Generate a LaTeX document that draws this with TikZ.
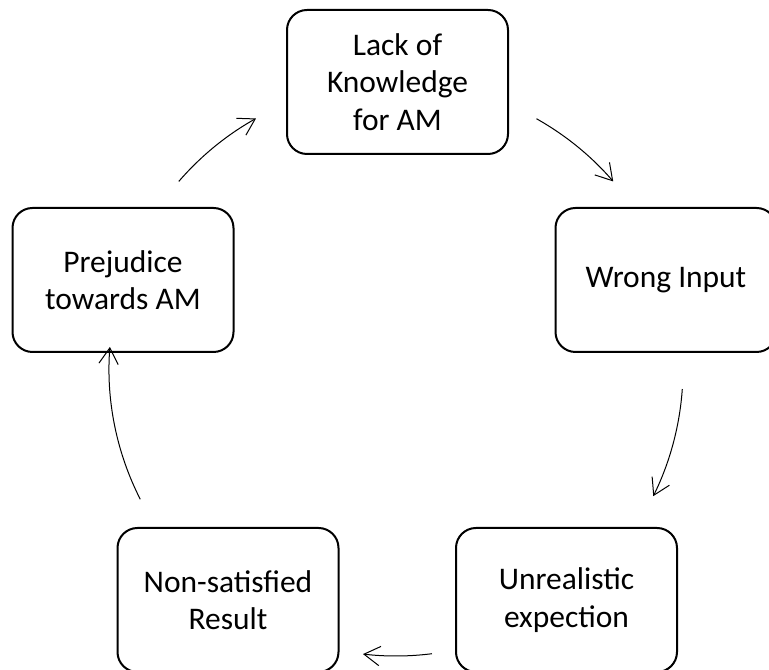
\documentclass[tikz,border=0pt]{standalone}
\usepackage{fontspec}
\setmainfont{Carlito}
\usetikzlibrary{arrows.meta}

\begin{document}
\begin{tikzpicture}[x=0.75pt, y=0.75pt,
	cause/.style={draw, line width=1.5pt, rounded corners=15pt, minimum width=165.75pt,
		minimum height=108pt, align=center, inner sep=0pt,
		font=\fontsize{23.6}{28}\selectfont},
	cyc/.style={-{Straight Barb[length=12pt,width=14.5pt]}, line width=0.75pt}]

	\useasboundingbox (0,0) rectangle (769,670);
	\clip (0,0) rectangle (769,670);
	\coordinate (c) at (396,301);

	\node[cause] (know) at (397.5,588) {Lack of\\Knowledge\\for AM};
	\node[cause] (input) at (666,390) {Wrong Input};
	\node[cause] (expect) at (566.5,70) {Unrealistic\\expection};
	\node[cause] (result) at (228,70) {Non-satisfied\\Result};
	\node[cause] (prejud) at (123,390) {Prejudice\\towards AM};

	\foreach \a/\b in {60.7/40.8, -4/-26.3, -82.8/-96.6, -153/-184.4, 139.2/119.2}{
		\draw[cyc] ([shift={(\a:287)}]c) arc[start angle=\a, end angle=\b, radius=287];
	}

\end{tikzpicture}
\end{document}
